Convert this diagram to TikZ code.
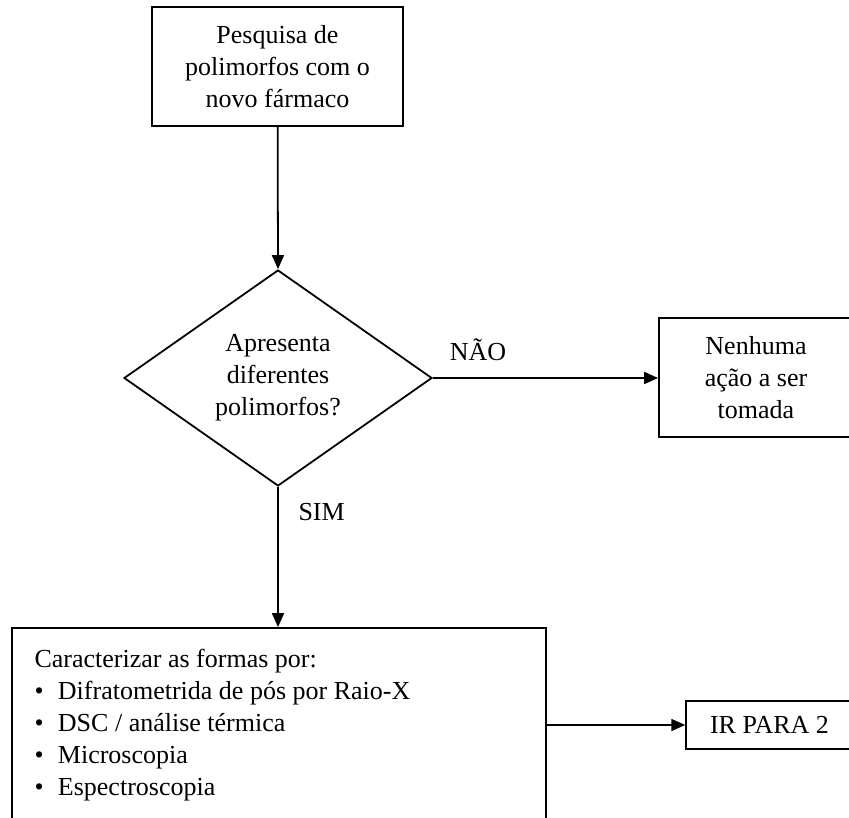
\documentclass[tikz,border=0pt]{standalone}
\usepackage{fontspec}
\setmainfont{Liberation Serif}
\usetikzlibrary{shapes.geometric,arrows.meta}
\tikzstyle{etapa}=[rectangle, draw, thick, align=center, inner sep=0pt]
\tikzstyle{decisao}=[diamond, draw, thick, align=center, inner sep=0pt, aspect=1.43, minimum width=138.6pt, minimum height=97.2pt]
\tikzstyle{seta}=[thick, -{Triangle[length=6.3pt, width=5.4pt]}]
\newcommand{\itm}{\textbullet\hspace{0.55em}}

\begin{document}
\begin{tikzpicture}[x=0.45pt, y=-0.45pt, thick, font=\fontsize{11.7}{14.4}\selectfont]
                    \useasboundingbox (0,0) rectangle (849,818);
                    \clip (0,0) rectangle (849,818);
                    \node[etapa, minimum width=113pt, minimum height=53.5pt] (pesq) at (277.5, 66.5) {Pesquisa de\\polimorfos com o\\novo fármaco};
                    \node[decisao] (dec) at (278, 378) {Apresenta\\diferentes\\polimorfos?};
                    \node[etapa, minimum width=87.3pt, minimum height=53.5pt] (nenh) at (756, 377.5) {Nenhuma\\ação a ser\\tomada};
                    \node[etapa, minimum width=240pt, minimum height=87.3pt, inner xsep=10pt, text width=220pt, align=flush left] (carac) at (279, 725) {Caracterizar as formas por:\\\itm Difratometrida de pós por Raio-X\\\itm DSC / análise térmica\\\itm Microscopia\\\itm Espectroscopia};
                    \node[etapa, minimum width=75pt, minimum height=21.6pt] (ir) at (769.5, 725) {IR PARA 2};
                    \draw[seta] (pesq)--(dec.north);
                    \draw[seta] (dec.east)--(nenh.west |- dec.east) node[pos=0.2, above=4pt] {NÃO};
                    \draw[seta] (dec.south)--(carac.north -| dec.south) node[pos=0.18, right=5.5pt] {SIM};
                    \draw[seta] (carac.east |- ir.west)--(ir.west);
                \end{tikzpicture}
\end{document}
